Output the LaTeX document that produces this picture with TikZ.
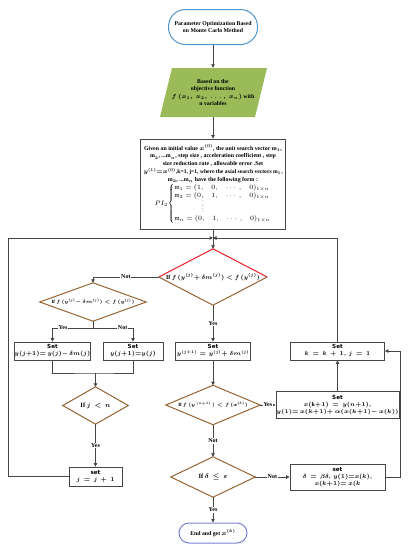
\documentclass[tikz,border=0pt]{standalone}
\usepackage{fix-cm}
\usepackage{fontspec}
\setmainfont{Liberation Serif}
\setsansfont{DejaVu Sans}
\usepackage{amsmath}
\usetikzlibrary{arrows.meta,calc}
\DeclareMathSizes{4.8}{4.8}{3.4}{2.7}
\DeclareMathSizes{5.9}{5.9}{4.1}{3.2}
\DeclareMathSizes{5.6}{5.6}{4}{3.1}
\DeclareMathSizes{5.8}{5.8}{4.2}{3.2}
\DeclareMathSizes{6}{6}{4.3}{3.3}
\DeclareMathSizes{6.5}{6.5}{4.7}{3.6}
\definecolor{startblue}{RGB}{80,150,205}
\definecolor{endblue}{RGB}{125,125,215}
\definecolor{iogreen}{RGB}{155,187,89}
\definecolor{dbrown}{RGB}{150,100,50}
\definecolor{dred}{RGB}{232,30,40}
\definecolor{lgray}{RGB}{70,70,70}
\newcommand{\fsz}[2]{\fontsize{#1}{#2}\selectfont}
\newcommand{\mvd}{\smash{\scalebox{0.8}{$\vdots$}}}
\begin{document}
\begin{tikzpicture}[x=1pt,y=-1pt,
 line/.style={draw=lgray,line width=0.8pt},
 arr/.style={line,-{Triangle[length=3.5pt,width=3.5pt]}},
 lbl/.style={fill=white,inner sep=0.8pt,font=\fsz{6}{7}\bfseries},
 box/.style={draw=lgray,line width=0.8pt,align=center,inner sep=0.5pt,font=\fsz{5.6}{7}\bfseries\boldmath},
 term/.style={line width=1pt,align=center,fill=white,font=\fsz{5.8}{7.2}\bfseries\boldmath},
 dnode/.style={rectangle,inner sep=0pt,align=center,font=\bfseries\boldmath},
 dline/.style={draw=dbrown,line width=1pt,line join=miter},
]
\useasboundingbox (0,0) rectangle (408,550);
\fill[white] (0,0) rectangle (408,550);

% start
\node[term,draw=startblue,rounded corners=17pt,minimum width=89pt,minimum height=35pt] (start) at (213,27) {Parameter Optimization Based\\on Monte Carlo Method};

% input parallelogram
\fill[iogreen] (172,68) -- (267,68) -- (255,117) -- (160,117) -- cycle;
\node[align=center,minimum width=95pt,minimum height=49pt,inner sep=0pt,font=\fsz{5.8}{7.5}\bfseries\boldmath] (io) at (213,92.5) {Based on the\\objective function\\$f\,(x_1,\ x_2,\ \dots,\ x_n)$ with\\n variables};

% process box
\node[box,minimum width=145pt,minimum height=90pt,inner sep=0pt,font=\fsz{5.9}{7.7}\bfseries\boldmath] (proc) at (213,184) {Given an initial value $x^{(0)}$, the unit search vector m$_1$,\\
m$_2$, ...m$_n$, step size , acceleration coefficient , step\\
size reduction rate , allowable error .Set\\
{\fsz{5.6}{7.7}$y^{(1)}{=}x^{(0)}$,k=1,\ j=1, where the axial search vectors m$_1$,}\\
m$_2$, ...m$_n$ have the following form :\\[0.5pt]
{\fsz{6.5}{8.3}\mdseries\unboldmath\renewcommand\arraystretch{0.95}$PI_2\!\left\{\begin{array}{@{}l@{}}
\mathrm{m}_1 = (1,\quad 0,\quad \cdots\ ,\quad 0)_{1\times n}\\
\mathrm{m}_2 = (0,\quad 1,\quad \cdots\ ,\quad 0)_{1\times n}\\
\hspace{4.3em}\mvd\\
\hspace{4.3em}\mvd\\
\mathrm{m}_n = (0,\quad 1,\quad \cdots\ ,\quad 0)_{1\times n}
\end{array}\right.$}};

% diamonds
\node[dnode,minimum width=108pt,minimum height=56pt,font=\fsz{6}{7}\bfseries\boldmath] (d1) at (213,277) {If $f\,(y^{(j)}{+}\ \delta m^{(j)}) < f\,(y^{(j)})$};
\draw[line width=1pt,draw=dred,line join=miter] (d1.west) -- (d1.north) -- (d1.east);
\draw[dline] (d1.west) -- (d1.south) -- (d1.east);

\node[dnode,minimum width=106pt,minimum height=38pt,font=\fsz{4.8}{5.5}\bfseries\boldmath] (d2) at (93,302) {If $f\,(y^{(j)}{-}\ \delta m^{(j)}) < f\,(y^{(j)})$};
\node[dnode,minimum width=65pt,minimum height=37pt,font=\fsz{6.5}{7.5}\bfseries\boldmath] (d3) at (95.5,405.5) {If $j\ <\ n$};
\node[dnode,minimum width=94pt,minimum height=39pt,font=\fsz{4.8}{5.5}\bfseries\boldmath] (d4) at (213,405) {If $f\,(y^{\ (n+1)}\,) < f\,(x^{(k)})$};
\node[dnode,minimum width=84pt,minimum height=40pt,font=\fsz{6.5}{7.5}\bfseries\boldmath] (d5) at (213,477) {If $\delta\ \le\ \varepsilon$};
\foreach \d in {d2,d3,d4,d5}
  \draw[dline] (\d.west) -- (\d.north) -- (\d.east) -- (\d.south) -- cycle;

% boxes
\node[box,minimum width=75pt,minimum height=18pt] (l1) at (52.5,351) {\textsf{Set}\\{\fsz{6}{7}$y(j{+}1){=}\ y(j){-}\ \delta m(j)$}};
\node[box,minimum width=60pt,minimum height=18pt] (l2) at (133,351) {\textsf{Set}\\{\fsz{6}{7}$y(j{+}1){=}y(j)$}};
\node[box,minimum width=75pt,minimum height=18pt] (m1) at (213,351) {\textsf{Set}\\{\fsz{5.6}{7}$y^{(j+1)} = y^{(j)}{+}\ \delta m^{(j)}$}};
\node[box,minimum width=94pt,minimum height=18pt] (r1) at (337.5,351) {\textsf{Set}\\{\fsz{6}{7}$k\ =\ k\ +\ 1,\ j\ =\ 1$}};
\node[box,minimum width=115pt,minimum height=27pt] (r2) at (337.5,405) {\textsf{Set}\\{\fsz{6}{7}$x(\mathrm{k}{+}1)\ =\ y(n{+}1),$}\\{\fsz{5.6}{7}$y(1){=}\ x(k{+}1){+}\ \alpha(x(k{+}1){-}\ x(k))$}};
\node[box,minimum width=95pt,minimum height=26pt] (r3) at (337.5,477) {\textsf{set}\\{\fsz{6}{7}$\delta\ =\ \beta\delta,\ y(1){=}x(k),$}\\{\fsz{6}{7}$x(k{+}1){=}\ x(k$}};
\node[box,minimum width=53pt,minimum height=19pt] (setj) at (95.5,476.5) {\textsf{set}\\{\fsz{6}{7}$j\ =\ j\ +\ 1$}};

% end
\node[term,draw=endblue,rounded corners=10pt,minimum width=68pt,minimum height=20pt] (end) at (213,533) {End and get $x^{(k)}$};

% connectors
\coordinate (J) at (213,238);
\coordinate (lc) at (8,238);
\coordinate (s2) at (93,328);
\coordinate (m3) at (95.5,373);
\coordinate (rc) at (400,477);

\draw[arr] (start) -- (io);
\draw[arr] (io) -- (proc);
\draw[line] (proc) -- (J);
\draw[arr] (J) -- (d1.north);
\draw[arr] (setj.west) -| (lc) -- (J);
\draw[arr] (r1.north) |- (J);

\draw[arr] (d1.west) -| node[lbl,pos=0.25]{Not} (d2.north);
\draw[line] (d2.south) -- (s2);
\draw[arr] (s2) -| node[lbl,pos=0.37]{Yes} (l1.north);
\draw[arr] (s2) -| node[lbl,pos=0.37]{Not} (l2.north);
\draw[line] (l1.south) |- (m3) -| (l2.south);
\draw[arr] (m3) -- (d3.north);
\draw[arr] (d3.south) -- node[lbl]{Yes} (setj.north);

\draw[arr] (d1.south) -- node[lbl]{Yes} (m1.north);
\draw[arr] (m1.south) -- (d4.north);
\draw[arr] (d4.east) -- node[lbl]{Yes} (r2.west);
\draw[arr] (r2.north) -- (r1.south);
\draw[arr] (d4.south) -- node[lbl]{Not} (d5.north);
\draw[arr] (d5.east) -- node[lbl]{Not} (r3.west);
\draw[arr] (r3.east) -- (rc) |- (r1.east);
\draw[arr] (d5.south) -- node[lbl]{Yes} (end.north);
\end{tikzpicture}
\end{document}
